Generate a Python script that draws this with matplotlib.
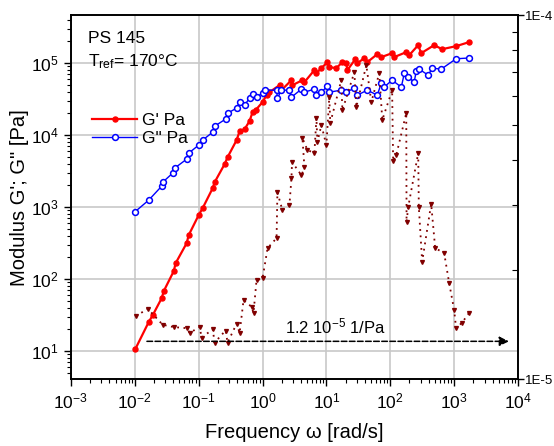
import numpy as np
import matplotlib
matplotlib.use('Agg')
import matplotlib.pyplot as plt
from matplotlib.ticker import LogLocator, FixedLocator, FixedFormatter, NullFormatter

plt.rcParams['font.family'] = ['Liberation Sans', 'DejaVu Sans']
plt.rcParams['mathtext.fontset'] = 'custom'
plt.rcParams['mathtext.rm'] = 'Liberation Sans'
plt.rcParams['mathtext.default'] = 'regular'

# G' (storage modulus), Pa
g1_w = [0.0102, 0.0165, 0.0191, 0.0264, 0.0284, 0.0407, 0.0437, 0.0649, 0.0698, 0.100,
        0.1155, 0.166, 0.178, 0.255, 0.284, 0.393, 0.438, 0.524, 0.626, 0.698,
        0.778, 1.0, 1.155, 1.285, 1.845, 1.98, 2.84, 2.94, 4.22, 4.53,
        6.49, 6.98, 8.35, 10.4, 11.1, 14.3, 17.8, 20.5, 21.3, 28.4,
        30.5, 39.3, 43.7, 62.7, 72.3, 107, 115, 178, 198, 274,
        305, 487, 649, 1074, 1714]
g1_val = [10.7, 25.3, 31.6, 54.5, 68.1, 129, 167, 316, 408, 774,
          968, 1836, 2222, 3954, 4946, 8530, 11370, 12110, 15640, 20850,
          22220, 28720, 35940, 39540, 49450, 42170, 58070, 49450, 58070, 54450,
          79960, 72620, 85300, 103200, 88000, 85300, 103200, 100000, 79960, 113700,
          100000, 117200, 103200, 133400, 121200, 137600, 121200, 142200, 129100, 177800,
          137600, 177800, 156300, 172200, 195800]

# G'' (loss modulus), Pa
g2_w = [0.0102, 0.0165, 0.0264, 0.0274, 0.0392, 0.0421, 0.0649, 0.0698, 0.100, 0.1155,
        0.166, 0.178, 0.264, 0.284, 0.393, 0.438, 0.524, 0.626, 0.698, 0.806,
        1.0, 1.11, 1.66, 1.71, 1.98, 2.64, 2.84, 4.07, 4.53, 6.49,
        6.98, 8.35, 10.4, 11.1, 17.1, 20.5, 27.4, 30.5, 43.7, 62.7,
        72.3, 80, 107, 149, 166, 191, 237, 255, 284, 393,
        453, 627, 1074, 1714]
g2_val = [870, 1250, 1958, 2222, 2967, 3481, 4642, 5623, 7262, 8530,
          11010, 13340, 16680, 20210, 23710, 28720, 26100, 32660, 37090, 33730,
          38310, 42170, 42170, 32660, 42170, 42170, 33730, 43550, 39540, 43550,
          35940, 39540, 47940, 39540, 42170, 39540, 44980, 35940, 42170, 35940,
          52760, 46420, 58070, 46420, 72620, 63930, 54450, 77430, 82540, 68130,
          85300, 82540, 115000, 118000]

# compliance, 1/Pa (right axis)
j_w = [0.0104, 0.0160, 0.0274, 0.0407, 0.0649, 0.0723, 0.104, 0.111, 0.166, 0.178,
       0.264, 0.284, 0.393, 0.438, 0.505, 0.673, 0.723, 0.806, 1.0, 1.20,
       1.66, 1.71, 2.05, 2.64, 2.84, 2.90, 4.07, 4.53, 4.22, 5.05,
       6.49, 6.98, 7.23, 8.35, 10.0, 11.1, 11.5, 17.1, 17.8, 27.4,
       29.4, 42.2, 50.5, 67.3, 75.0, 107, 111, 124, 178, 180,
       191, 274, 280, 316, 437, 505, 698, 835, 1000, 1074,
       1334, 1714]
j_val = [1.49e-5, 1.56e-5, 1.41e-5, 1.39e-5, 1.38e-5, 1.34e-5, 1.39e-5, 1.30e-5, 1.37e-5, 1.26e-5,
         1.36e-5, 1.26e-5, 1.42e-5, 1.34e-5, 1.65e-5, 1.58e-5, 1.52e-5, 1.87e-5, 1.89e-5, 2.29e-5,
         2.44e-5, 3.26e-5, 2.91e-5, 3.01e-5, 3.57e-5, 3.95e-5, 3.63e-5, 3.82e-5, 4.59e-5, 4.26e-5,
         4.18e-5, 5.21e-5, 4.48e-5, 4.99e-5, 4.39e-5, 5.95e-5, 5.05e-5, 6.63e-5, 5.48e-5, 6.97e-5,
         5.59e-5, 7.29e-5, 5.77e-5, 6.93e-5, 5.15e-5, 6.22e-5, 3.97e-5, 4.12e-5, 5.38e-5, 2.70e-5,
         2.97e-5, 4.18e-5, 2.97e-5, 2.10e-5, 3.03e-5, 2.29e-5, 2.22e-5, 1.84e-5, 1.55e-5, 1.38e-5,
         1.43e-5, 1.52e-5]

x_ticks = [1e-3, 1e-2, 1e-1, 1e0, 1e1, 1e2, 1e3, 1e4]
y_ticks = [1e1, 1e2, 1e3, 1e4, 1e5]

fig = plt.figure(figsize=(5.54, 4.46), dpi=100)
ax = fig.add_axes([0.128, 0.150, 0.807, 0.816])
ax2 = ax.twinx()

ax.plot(g1_w, g1_val, '-o', color='#ff0000', lw=1.6, ms=3.6, mfc='#ff0000', mec='#ff0000',
        label="G' Pa", zorder=4)
ax.plot(g2_w, g2_val, '-o', color='#0000ff', lw=1.0, ms=4.2, mfc='white', mec='#0000ff',
        mew=1.1, label='G" Pa', zorder=5)

ax2.plot(j_w, j_val, linestyle=(0, (1, 2.5)), color='#800000', lw=1.3,
         marker='v', ms=2.8, mfc='#800000', mec='#800000')
ax2.annotate('', xy=(7200, 1.27e-5), xytext=(0.0155, 1.27e-5),
             arrowprops=dict(arrowstyle='-|>', color='black', lw=1.1, linestyle='--',
                             mutation_scale=14, shrinkA=0, shrinkB=0))

ax.set_xscale('log')
ax.set_yscale('log')
ax.set_xlim(1e-3, 1e4)
ax.set_ylim(4.09, 4.64e5)
ax2.set_yscale('log')
ax2.set_ylim(1e-5, 1e-4)

ax.grid(True, which='major', color='#c8c8c8', lw=1.2)
ax.set_axisbelow(True)

ax.xaxis.set_major_locator(FixedLocator(x_ticks))
ax.xaxis.set_minor_locator(LogLocator(base=10, subs=np.arange(2, 10), numticks=20))
ax.xaxis.set_minor_formatter(NullFormatter())
ax.yaxis.set_major_locator(FixedLocator(y_ticks))
ax.yaxis.set_minor_locator(LogLocator(base=10, subs=np.arange(2, 10), numticks=20))
ax.yaxis.set_minor_formatter(NullFormatter())
ax.tick_params(which='major', direction='out', length=5, width=1, labelsize=12.5, pad=4)
ax.tick_params(which='minor', direction='out', length=3, width=0.8)

ax2.yaxis.set_major_locator(FixedLocator([1e-5, 1e-4]))
ax2.yaxis.set_major_formatter(FixedFormatter(['1E-5', '1E-4']))
ax2.yaxis.set_minor_locator(LogLocator(base=10, subs=np.arange(2, 10), numticks=20))
ax2.yaxis.set_minor_formatter(NullFormatter())
ax2.tick_params(which='major', direction='out', length=4, width=1, labelsize=9.5, pad=1)
ax2.tick_params(which='minor', direction='in', length=4, width=0.8)

for a in (ax, ax2):
    for s in a.spines.values():
        s.set_linewidth(1.2)

ax.set_xlabel('Frequency ω [rad/s]', fontsize=14.5, labelpad=8)
ax.set_ylabel('Modulus G\'; G" [Pa]', fontsize=14.5, labelpad=1)

ax.text(0.038, 0.937, 'PS 145', transform=ax.transAxes, fontsize=12.5, va='center', ha='left')
ax.text(0.038, 0.872, r'T$_{ref}$= 170°C', transform=ax.transAxes, fontsize=12.5,
        va='center', ha='left')
ax2.text(0.591, 0.145, r'1.2 10$^{-5}$ 1/Pa', transform=ax.transAxes, fontsize=12,
         va='center', ha='center')

ax.legend(loc='upper left', bbox_to_anchor=(0.02, 0.765), frameon=False, fontsize=12.5,
          handlelength=2.6, handletextpad=0.3, labelspacing=0.15, borderpad=0.2)

fig.savefig('out.png', dpi=100)
